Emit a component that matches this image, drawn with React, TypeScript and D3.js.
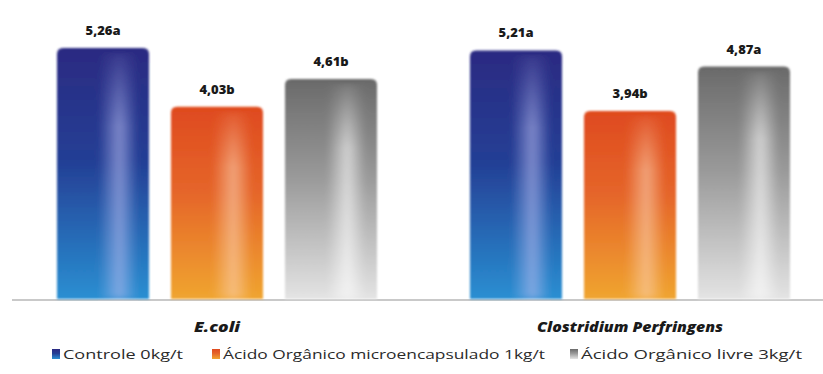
import React from "react";
import * as d3 from "d3";

const categories = ["E.coli", "Clostridium Perfringens"];
const seriesNames = [
  "Controle 0kg/t",
  "Ácido Orgânico microencapsulado 1kg/t",
  "Ácido Orgânico livre 3kg/t",
];
const controleValues = [5.26, 5.21];
const microValues = [4.03, 3.94];
const livreValues = [4.61, 4.87];
const controleLetters = ["a", "a"];
const microLetters = ["b", "b"];
const livreLetters = ["b", "a"];

const W = 823;
const H = 374;

const seriesValues = [controleValues, microValues, livreValues];
const seriesLetters = [controleLetters, microLetters, livreLetters];

const palettes = [
  { top: "#2b2a82", mid: "#243f95", bottom: "#2a8fd2", hi: "#b8bcf0" },
  { top: "#df4a1f", mid: "#e5662a", bottom: "#f0a530", hi: "#fbd0b0" },
  { top: "#6a6a6a", mid: "#9a9a9a", bottom: "#e4e4e4", hi: "#ffffff" },
];

function topRounded(x: number, y: number, w: number, h: number, r: number) {
  const p = d3.path();
  p.moveTo(x, y + h);
  p.lineTo(x, y + r);
  p.quadraticCurveTo(x, y, x + r, y);
  p.lineTo(x + w - r, y);
  p.quadraticCurveTo(x + w, y, x + w, y + r);
  p.lineTo(x + w, y + h);
  p.closePath();
  return p.toString();
}

const fmt = (v: number, l: string) => v.toFixed(2).replace(".", ",") + l;

export default function App() {
  const baseline = 299;
  const x0 = d3.scalePoint<string>().domain(categories).range([217, 630]);
  const x1 = d3
    .scaleBand<number>()
    .domain([0, 1, 2])
    .range([-160, 160])
    .paddingInner(0.193);
  const y = d3.scaleLinear().domain([0, 5.26]).range([baseline, 48]);
  const bw = x1.bandwidth();

  const legendSquares = [52, 212, 570];
  const legendTexts = [
    { x: 63, len: 120 },
    { x: 223, len: 322 },
    { x: 581, len: 221 },
  ];
  const catLens = [46, 186];

  return (
    <svg
      width={W}
      height={H}
      style={{ position: "absolute", left: 0, top: 0, background: "#fff" }}
    >
      <defs>
        {palettes.map((p, i) => (
          <linearGradient key={"v" + i} id={"vg" + i} x1="0" y1="0" x2="0" y2="1">
            <stop offset="0%" stopColor={p.top} />
            <stop offset="45%" stopColor={p.mid} />
            <stop offset="100%" stopColor={p.bottom} />
          </linearGradient>
        ))}
        {palettes.map((p, i) => (
          <linearGradient key={"h" + i} id={"hg" + i} x1="0" y1="0" x2="1" y2="0">
            <stop offset="0%" stopColor={p.hi} stopOpacity={0} />
            <stop offset="45%" stopColor={p.hi} stopOpacity={0} />
            <stop offset="68%" stopColor={p.hi} stopOpacity={0.6} />
            <stop offset="88%" stopColor={p.hi} stopOpacity={0} />
            <stop offset="100%" stopColor={p.hi} stopOpacity={0} />
          </linearGradient>
        ))}
        <linearGradient id="fadeTop" x1="0" y1="0" x2="0" y2="1">
          <stop offset="0%" stopColor="#fff" stopOpacity={0.15} />
          <stop offset="30%" stopColor="#fff" stopOpacity={1} />
          <stop offset="100%" stopColor="#fff" stopOpacity={1} />
        </linearGradient>
        <mask id="hiMask" maskContentUnits="objectBoundingBox">
          <rect x="0" y="0" width="1" height="1" fill="url(#fadeTop)" />
        </mask>
        <filter id="soft" x="-5%" y="-5%" width="110%" height="110%">
          <feGaussianBlur stdDeviation="0.8" />
        </filter>
        <filter id="softer" x="-20%" y="-5%" width="140%" height="110%">
          <feGaussianBlur stdDeviation="3" />
        </filter>
      </defs>

      <line x1={12} x2={823} y1={300} y2={300} stroke="#c9c9c9" strokeWidth={2} />

      {categories.map((cat, ci) => (
        <g key={cat} transform={`translate(${x0(cat)},0)`}>
          {seriesValues.map((vals, si) => {
            const v = vals[ci];
            const bx = x1(si)!;
            const top = y(v);
            const h = baseline - top;
            return (
              <g key={si}>
                <g filter="url(#soft)">
                  <path d={topRounded(bx, top, bw, h, 6)} fill={`url(#vg${si})`} />
                  <g mask="url(#hiMask)">
                    <rect
                      x={bx}
                      y={top + 4}
                      width={bw}
                      height={h - 4}
                      fill={`url(#hg${si})`}
                      filter="url(#softer)"
                    />
                  </g>
                </g>
                <text
                  x={bx + bw / 2}
                  y={top - 13}
                  textAnchor="middle"
                  fontFamily="'Open Sans', sans-serif"
                  fontWeight={800}
                  fontSize={13}
                  fill="#1a1a1a"
                >
                  {fmt(v, seriesLetters[si][ci])}
                </text>
              </g>
            );
          })}
          <text
            x={0}
            y={332}
            textAnchor="middle"
            fontFamily="'Open Sans', sans-serif"
            fontWeight={800}
            fontStyle="italic"
            fontSize={14}
            fill="#1a1a1a"
            textLength={catLens[ci]}
            lengthAdjust="spacingAndGlyphs"
          >
            {cat}
          </text>
        </g>
      ))}

      {seriesNames.map((name, si) => (
        <g key={name}>
          <rect
            x={legendSquares[si]}
            y={349}
            width={8}
            height={10}
            fill={`url(#vg${si})`}
          />
          <text
            x={legendTexts[si].x}
            y={359}
            fontFamily="'Open Sans', sans-serif"
            fontSize={12.5}
            fill="#2a2a2a"
            textLength={legendTexts[si].len}
            lengthAdjust="spacingAndGlyphs"
          >
            {name}
          </text>
        </g>
      ))}
    </svg>
  );
}
